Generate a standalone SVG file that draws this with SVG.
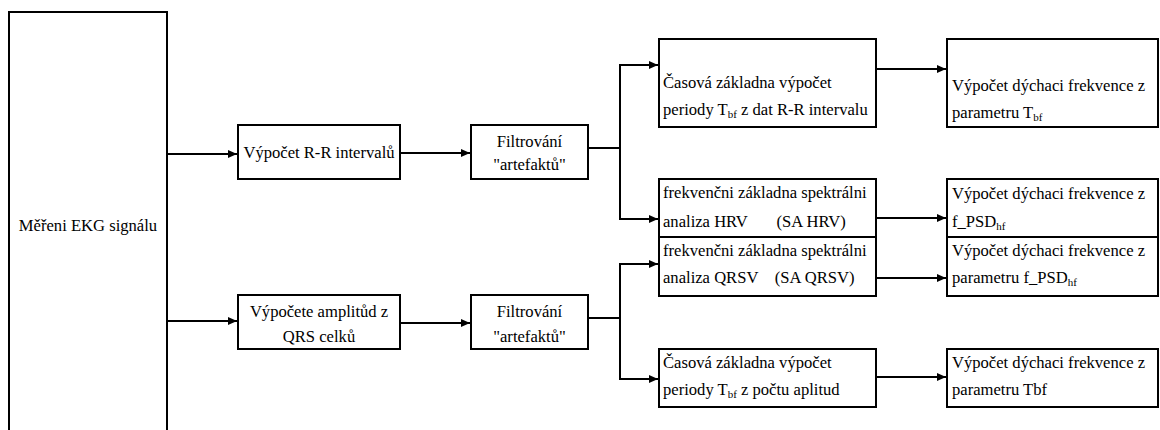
<svg xmlns="http://www.w3.org/2000/svg" width="1160" height="430" viewBox="0 0 1160 430">
<style>
.box{fill:#fff;stroke:#000;stroke-width:2}
.t{font-family:"Liberation Serif","Times New Roman",serif;font-size:16.6px;fill:#000}
.c{text-anchor:middle}
.sub{font-size:11px}
.ln{fill:none;stroke:#000;stroke-width:2}
</style>
<defs>
<marker id="ah" markerWidth="10" markerHeight="10" refX="9" refY="5" orient="auto" markerUnits="userSpaceOnUse">
<path d="M0,1 L9,5 L0,9 Z" fill="#000"/>
</marker>
</defs>
<rect width="1160" height="430" fill="#fff"/>
<g id="connectors">
<path class="ln" d="M167,154 H237" marker-end="url(#ah)"/>
<path class="ln" d="M167,321 H237" marker-end="url(#ah)"/>
<path class="ln" d="M400,153 H470" marker-end="url(#ah)"/>
<path class="ln" d="M400,323 H470" marker-end="url(#ah)"/>
<path class="ln" d="M588,148 H620 V65 H658" marker-end="url(#ah)"/>
<path class="ln" d="M620,148 V219 H658" marker-end="url(#ah)"/>
<path class="ln" d="M588,318 H620 V264 H658" marker-end="url(#ah)"/>
<path class="ln" d="M620,318 V379 H658" marker-end="url(#ah)"/>
<path class="ln" d="M876,69 H946" marker-end="url(#ah)"/>
<path class="ln" d="M876,218 H946" marker-end="url(#ah)"/>
<path class="ln" d="M876,278 H946" marker-end="url(#ah)"/>
<path class="ln" d="M876,377 H946" marker-end="url(#ah)"/>
</g>
<g id="n-mereni">
<rect class="box" x="9" y="12" width="158" height="430"/>
<text class="t c" x="88" y="231">Měřeni EKG signálu</text>
</g>
<g id="n-rr">
<rect class="box" x="238" y="125" width="162" height="54"/>
<text class="t c" x="319" y="158">Výpočet R-R intervalů</text>
</g>
<g id="n-filtr1">
<rect class="box" x="471" y="125" width="117" height="54"/>
<text class="t c" x="529.5" y="147">Filtrování</text>
<text class="t c" x="529.5" y="170">"artefaktů"</text>
</g>
<g id="n-ampl">
<rect class="box" x="238" y="295" width="162" height="54"/>
<text class="t c" x="319" y="317">Výpočete amplitůd z</text>
<text class="t c" x="319" y="342">QRS celků</text>
</g>
<g id="n-filtr2">
<rect class="box" x="471" y="295" width="117" height="54"/>
<text class="t c" x="529.5" y="317">Filtrování</text>
<text class="t c" x="529.5" y="342">"artefaktů"</text>
</g>
<g id="n-cas1">
<rect class="box" x="659" y="39" width="217" height="88"/>
<text class="t" x="663" y="88">Časová základna výpočet</text>
<text class="t" x="663" y="115">periody T<tspan class="sub" dy="3">bf</tspan><tspan dy="-3"> z dat R-R intervalu</tspan></text>
</g>
<g id="n-sahrv">
<rect class="box" x="659" y="179" width="217" height="58"/>
<text class="t" x="663" y="198">frekvenčni základna spektrálni</text>
<text class="t" x="663" y="227" xml:space="preserve">analiza HRV       (SA HRV)</text>
</g>
<g id="n-saqrsv">
<rect class="box" x="659" y="237" width="217" height="59"/>
<text class="t" x="663" y="256">frekvenčni základna spektrálni</text>
<text class="t" x="663" y="283" xml:space="preserve">analiza QRSV    (SA QRSV)</text>
</g>
<g id="n-cas2">
<rect class="box" x="659" y="349" width="217" height="58"/>
<text class="t" x="663" y="368">Časová základna výpočet</text>
<text class="t" x="663" y="395">periody T<tspan class="sub" dy="3">bf</tspan><tspan dy="-3"> z počtu aplitud</tspan></text>
</g>
<g id="n-r1">
<rect class="box" x="947" y="39" width="211" height="88"/>
<text class="t" x="952" y="91">Výpočet dýchaci frekvence z</text>
<text class="t" x="952" y="118">parametru T<tspan class="sub" dy="3">bf</tspan></text>
</g>
<g id="n-r2">
<rect class="box" x="947" y="179" width="211" height="58"/>
<text class="t" x="952" y="199">Výpočet dýchaci frekvence z</text>
<text class="t" x="952" y="227">f_PSD<tspan class="sub" dy="3">hf</tspan></text>
</g>
<g id="n-r3">
<rect class="box" x="947" y="237" width="211" height="59"/>
<text class="t" x="952" y="256">Výpočet dýchaci frekvence z</text>
<text class="t" x="952" y="283">parametru f_PSD<tspan class="sub" dy="3">hf</tspan></text>
</g>
<g id="n-r4">
<rect class="box" x="947" y="349" width="211" height="58"/>
<text class="t" x="952" y="368">Výpočet dýchaci frekvence z</text>
<text class="t" x="952" y="395">parametru Tbf</text>
</g>
</svg>
